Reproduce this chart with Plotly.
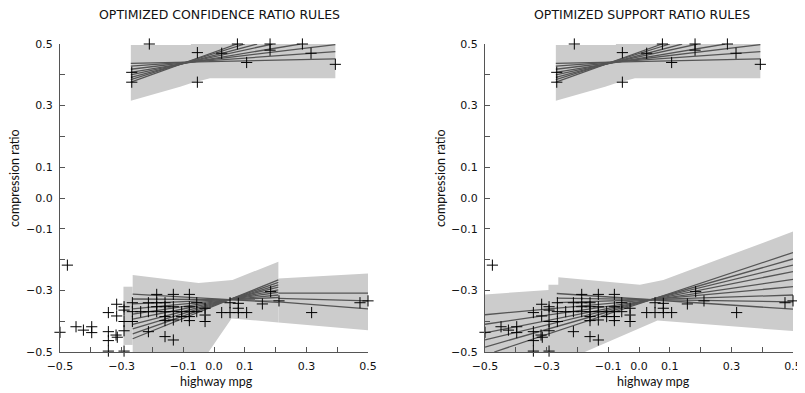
import plotly.graph_objects as go

# ---------------- data ----------------
pts_x = [-0.21, -0.267, -0.267, -0.054, -0.054, 0.025, 0.076, 0.106, 0.182, 0.182, 0.287, 0.315, 0.394,
         -0.476, -0.5, -0.448, -0.424, -0.397, -0.397,
         -0.343, -0.343, -0.343, -0.343,
         -0.316, -0.316, -0.318, -0.314,
         -0.292, -0.292, -0.292, -0.292, -0.292,
         -0.265, -0.265, -0.265,
         -0.238,
         -0.213, -0.213, -0.213,
         -0.186, -0.186, -0.186, -0.186,
         -0.159, -0.159, -0.159, -0.159, -0.159, -0.159,
         -0.132, -0.132, -0.132, -0.132, -0.132,
         -0.105, -0.105,
         -0.08, -0.08, -0.08, -0.08, -0.08,
         -0.056, -0.056,
         -0.029, -0.029, -0.029,
         0.025, 0.052, 0.052, 0.079, 0.079, 0.079, 0.106,
         0.157, 0.184, 0.211, 0.317, 0.474, 0.5]
pts_y = [0.5, 0.408, 0.376, 0.472, 0.376, 0.47, 0.5, 0.44, 0.50, 0.48, 0.50, 0.47, 0.434,
         -0.218, -0.436, -0.418, -0.429, -0.418, -0.437,
         -0.372, -0.434, -0.463, -0.497,
         -0.345, -0.383, -0.445, -0.452,
         -0.353, -0.364, -0.401, -0.431, -0.497,
         -0.34, -0.369, -0.401,
         -0.369,
         -0.34, -0.369, -0.434,
         -0.313, -0.34, -0.353, -0.369,
         -0.34, -0.353, -0.369, -0.385, -0.398, -0.45,
         -0.313, -0.353, -0.369, -0.396, -0.461,
         -0.369, -0.385,
         -0.313, -0.353, -0.369, -0.385, -0.398,
         -0.34, -0.369,
         -0.358, -0.38, -0.401,
         -0.372, -0.34, -0.372, -0.342, -0.358, -0.372, -0.372,
         -0.344, -0.304, -0.334, -0.372, -0.34, -0.334]

# upper rule (same in both panels): band edges and fitted lines
up_band_x = [-0.27, -0.075, -0.075, 0.394, 0.394, -0.013, -0.078, -0.11, -0.27]
up_band_y = [0.497, 0.497, 0.502, 0.502, 0.389, 0.389, 0.372, 0.361, 0.316]
up_lines_x0 = [-0.27, -0.27, -0.27, -0.27, -0.27, -0.27, -0.27, -0.27]
up_lines_y0 = [0.437, 0.428, 0.418, 0.408, 0.400, 0.392, 0.384, 0.376]
up_lines_x1 = [0.394, 0.394, 0.394, 0.28, 0.19, 0.14, 0.10, 0.075]
up_lines_y1 = [0.452, 0.475, 0.498, 0.50, 0.50, 0.50, 0.50, 0.50]

# left panel (confidence ratio) lower rules
lc_bandA_x = [-0.294, -0.264, -0.264, -0.294]
lc_bandA_y = [-0.288, -0.288, -0.477, -0.477]
lc_bandB_x = [-0.264, -0.05, 0.06, 0.209, 0.209, 0.057, -0.264]
lc_bandB_y = [-0.25, -0.276, -0.266, -0.207, -0.404, -0.391, -0.86]
lc_bandC_x = [0.209, 0.5, 0.5, 0.209]
lc_bandC_y = [-0.261, -0.245, -0.429, -0.404]
lc_lines_x0 = [-0.264] * 10 + [0.209, 0.209, 0.209]
lc_lines_y0 = [-0.312, -0.328, -0.344, -0.36, -0.377, -0.393, -0.41, -0.425, -0.441, -0.457,
               -0.309, -0.326, -0.337]
lc_lines_x1 = [0.209] * 10 + [0.5, 0.5, 0.5]
lc_lines_y1 = [-0.339, -0.331, -0.323, -0.315, -0.306, -0.298, -0.289, -0.282, -0.274, -0.266,
               -0.309, -0.334, -0.36]

# right panel (support ratio) lower rules
ls_band_x = [-0.5, -0.294, -0.294, -0.262, -0.262, 0.003, 0.079, 0.182, 0.5, 0.5, 0.06, -0.5]
ls_band_y = [-0.313, -0.299, -0.282, -0.282, -0.257, -0.282, -0.266, -0.228, -0.109, -0.432, -0.398, -0.64]
ls_lines_x0 = [-0.267, -0.267, -0.267, -0.5, -0.5, -0.5, -0.5, -0.5, -0.47]
ls_lines_y0 = [-0.310, -0.325, -0.340, -0.379, -0.410, -0.438, -0.461, -0.484, -0.5]
ls_lines_x1 = [0.5] * 9
ls_lines_y1 = [-0.361, -0.337, -0.315, -0.288, -0.264, -0.239, -0.218, -0.198, -0.177]

titles = ["OPTIMIZED CONFIDENCE RATIO RULES", "OPTIMIZED SUPPORT RATIO RULES"]
tick_vals = [-0.5, -0.4, -0.3, -0.2, -0.1, 0.0, 0.1, 0.2, 0.3, 0.4, 0.5]
tick_text = ["\u22120.5", "", "\u22120.3", "", "\u22120.1", "0.0", "0.1", "", "0.3", "", "0.5"]

# ---------------- figure ----------------
# the page body has an 8px margin, so the figure is drawn 8px in from the window corner
OFF = 8
W, H = 805 - OFF, 393 - OFF
BAND = "#cccccc"
LINE = "#555555"
TFONT = "DejaVu Sans"
LFONT = "Lato"


def px(v):
    return (v - OFF) / W


def py(v):
    return 1 - (v - OFF) / H


fig = go.Figure()


def add_band(xs, ys, ax):
    fig.add_trace(go.Scatter(x=xs + [xs[0]], y=ys + [ys[0]], mode="lines", fill="toself",
                             fillcolor=BAND, line=dict(width=0, color=BAND),
                             hoverinfo="skip", showlegend=False, xaxis="x" + ax, yaxis="y" + ax))


def add_lines(x0, y0, x1, y1, ax):
    xs, ys = [], []
    for a, b, c, d in zip(x0, y0, x1, y1):
        xs += [a, c, None]
        ys += [b, d, None]
    fig.add_trace(go.Scatter(x=xs, y=ys, mode="lines", line=dict(color=LINE, width=1.3),
                             hoverinfo="skip", showlegend=False, xaxis="x" + ax, yaxis="y" + ax))


for ax in ["", "2"]:
    add_band(up_band_x, up_band_y, ax)
add_band(lc_bandA_x, lc_bandA_y, "")
add_band(lc_bandB_x, lc_bandB_y, "")
add_band(lc_bandC_x, lc_bandC_y, "")
add_band(ls_band_x, ls_band_y, "2")

for ax in ["", "2"]:
    add_lines(up_lines_x0, up_lines_y0, up_lines_x1, up_lines_y1, ax)
add_lines(lc_lines_x0, lc_lines_y0, lc_lines_x1, lc_lines_y1, "")
add_lines(ls_lines_x0, ls_lines_y0, ls_lines_x1, ls_lines_y1, "2")

for ax in ["", "2"]:
    fig.add_trace(go.Scatter(x=pts_x, y=pts_y, mode="markers", cliponaxis=False,
                             marker=dict(symbol="cross-thin", size=8, line=dict(color="black", width=1)),
                             hoverinfo="skip", showlegend=False, xaxis="x" + ax, yaxis="y" + ax))

axis_common = dict(range=[-0.5, 0.5], tickmode="array", tickvals=tick_vals, ticktext=tick_text,
                   ticks="inside", ticklen=5, tickcolor="#555555", showline=True, linecolor="#555555",
                   linewidth=1, showgrid=False, zeroline=False, fixedrange=True, automargin=False,
                   ticklabelstandoff=4, tickfont=dict(family=TFONT, size=11, color="#111111"))

fig.update_layout(
    template="none",
    width=W, height=H, margin=dict(l=0, r=0, t=0, b=0, pad=0),
    paper_bgcolor="white", plot_bgcolor="white",
    xaxis=dict(domain=[px(60), px(368)], anchor="y", **axis_common),
    yaxis=dict(domain=[py(352), py(44)], anchor="x", **axis_common),
    xaxis2=dict(domain=[px(485), px(793)], anchor="y2", **axis_common),
    yaxis2=dict(domain=[py(352), py(44)], anchor="x2", **axis_common),
    font=dict(family=LFONT, color="#111111"),
)

ann = []
for cx, t in [(220, titles[0]), (642, titles[1])]:
    ann.append(dict(text=t, x=px(cx), y=py(14), xref="paper", yref="paper", showarrow=False,
                    xanchor="center", yanchor="middle", font=dict(family=TFONT, size=12.5)))
for cx in [216, 653]:
    ann.append(dict(text="highway mpg", x=px(cx), y=py(381), xref="paper", yref="paper",
                    showarrow=False, xanchor="center", yanchor="middle", font=dict(family=LFONT, size=12.5)))
for cx in [15, 441]:
    ann.append(dict(text="compression ratio", x=px(cx), y=py(178), xref="paper", yref="paper",
                    showarrow=False, textangle=-90, xanchor="center", yanchor="middle",
                    font=dict(family=LFONT, size=12.5)))
fig.update_layout(annotations=ann)

fig.write_html("out.html")
